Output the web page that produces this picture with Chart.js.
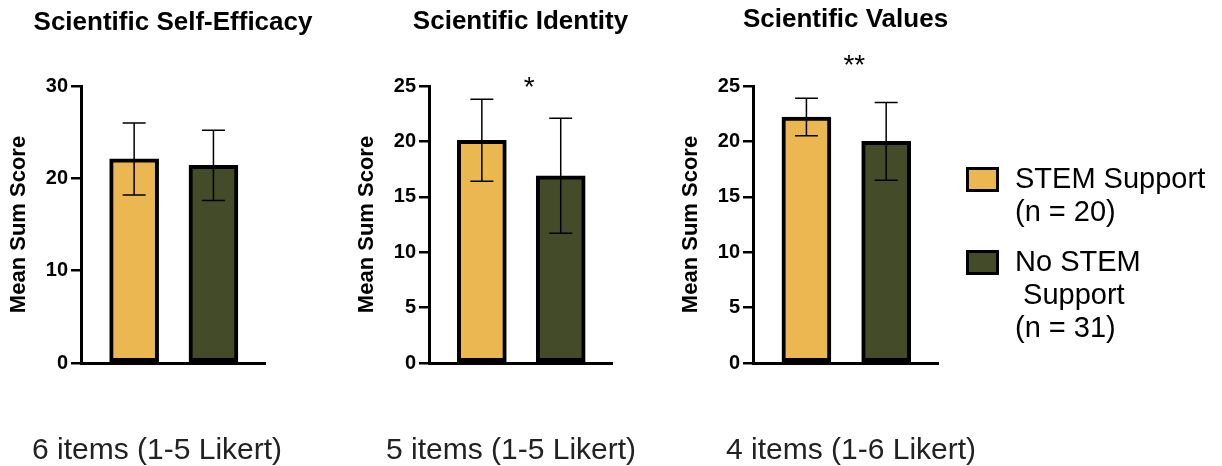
<!DOCTYPE html>
<html>
<head>
<meta charset="utf-8">
<script src="https://cdn.jsdelivr.net/npm/chart.js@4"></script>
<style>
html, body { margin: 0; padding: 0; background: #fff; }
#wrap { position: relative; width: 1222px; height: 466px; overflow: hidden; font-family: "Liberation Sans", Arial, sans-serif; }
#wrap canvas { position: absolute; left: 0; top: 0; }
.note { position: absolute; top: 434px; font-size: 30px; line-height: 30px; color: #222; white-space: nowrap; }
.legend { position: absolute; left: 966px; top: 0; width: 256px; height: 466px; }
.item { position: absolute; left: 0; }
.swatch { position: absolute; left: 0; width: 27px; height: 19px; border: 3px solid #000; }
.ltext { position: absolute; left: 49px; top: 0; font-size: 29px; line-height: 33px; color: #000; white-space: pre; }
</style>
</head>
<body>
<div id="wrap">
  <canvas id="c0" width="1222" height="466"></canvas>
  <canvas id="c1" width="1222" height="466"></canvas>
  <canvas id="c2" width="1222" height="466"></canvas>
  <div id="notes"></div>
  <div class="legend" id="legend"></div>
</div>
<script>
// ---- data ----
const panelTitles = ['Scientific Self-Efficacy', 'Scientific Identity', 'Scientific Values'];
const groupLabels = ['STEM Support\n(n = 20)', 'No STEM\n Support\n(n = 31)'];
const stemMean = [22.1, 20.1, 22.2];
const stemSD = [3.9, 3.7, 1.7];
const noStemMean = [21.4, 16.9, 20.0];
const noStemSD = [3.8, 5.2, 3.5];
const yMaxTicks = [30, 25, 25];
const yStepTicks = [10, 5, 5];
const sigMarks = ['', '*', '**'];
const sigLevel = [null, 25.6, 27.55];
const itemNotes = ['6 items (1-5 Likert)', '5 items (1-5 Likert)', '4 items (1-6 Likert)'];
const yAxisTitle = 'Mean Sum Score';

// ---- styling / layout ----
const GOLD = '#EBB750';
const OLIVE = '#434B28';
const FONT = '"Liberation Sans", Arial, sans-serif';
const W = 1222, H = 466;
const panelBox = [
  { left: 81, right: 265 },
  { left: 429, right: 612 },
  { left: 753, right: 938 }
];
const titleY = [23, 22, 20];
const AREA_TOP = 86, AREA_BOTTOM = 363;
const YW = 80;
const noteLeft = [32, 386, 726];

const errorBars = {
  id: 'errorBars',
  afterDatasetsDraw(chart) {
    const ctx = chart.ctx;
    const ys = chart.scales.y;
    chart.data.datasets.forEach((ds, di) => {
      const meta = chart.getDatasetMeta(di);
      meta.data.forEach((el, j) => {
        const v = ds.data[j].y, sd = ds.sd[j];
        const x = el.x;
        const yt = ys.getPixelForValue(v + sd);
        const yb = ys.getPixelForValue(v - sd);
        const cw = 11.5;
        ctx.save();
        ctx.strokeStyle = '#000';
        ctx.lineWidth = 1.5;
        ctx.beginPath();
        ctx.moveTo(x, yt); ctx.lineTo(x, yb);
        ctx.moveTo(x - cw, yt); ctx.lineTo(x + cw, yt);
        ctx.moveTo(x - cw, yb); ctx.lineTo(x + cw, yb);
        ctx.stroke();
        ctx.restore();
      });
    });
  }
};

const sigPlugin = {
  id: 'sig',
  afterDraw(chart, args, opts) {
    if (!opts.text) return;
    const ctx = chart.ctx;
    const x = chart.scales.x.getPixelForValue(opts.at);
    const y = chart.scales.y.getPixelForValue(opts.level);
    ctx.save();
    ctx.fillStyle = '#000';
    ctx.font = '28px ' + FONT;
    ctx.textAlign = 'center';
    ctx.textBaseline = 'alphabetic';
    ctx.fillText(opts.text, x, y + 0.58 * 28);
    ctx.restore();
  }
};

const panelTitle = {
  id: 'panelTitle',
  afterDraw(chart, args, opts) {
    const ctx = chart.ctx;
    const a = chart.chartArea;
    ctx.save();
    ctx.fillStyle = '#000';
    ctx.font = 'bold 26px ' + FONT;
    ctx.textAlign = 'center';
    ctx.textBaseline = 'middle';
    ctx.fillText(opts.text, (a.left + a.right) / 2, opts.y);
    ctx.restore();
  }
};

for (let i = 0; i < 3; i++) {
  const pb = panelBox[i];
  new Chart(document.getElementById('c' + i), {
    type: 'bar',
    data: {
      datasets: [
        { label: groupLabels[0], data: [{ x: 0, y: stemMean[i] }], sd: [stemSD[i]],
          backgroundColor: GOLD, borderColor: '#000', borderWidth: 4, borderSkipped: false,
          barThickness: 49, grouped: false },
        { label: groupLabels[1], data: [{ x: 1, y: noStemMean[i] }], sd: [noStemSD[i]],
          backgroundColor: OLIVE, borderColor: '#000', borderWidth: 4, borderSkipped: false,
          barThickness: 49, grouped: false }
      ]
    },
    options: {
      responsive: false,
      animation: false,
      devicePixelRatio: 1,
      layout: { padding: { left: pb.left - YW, right: W - pb.right, top: AREA_TOP, bottom: H - AREA_BOTTOM } },
      plugins: {
        legend: { display: false },
        tooltip: { enabled: false },
        title: { display: false },
        panelTitle: { text: panelTitles[i], y: titleY[i] },
        sig: { text: sigMarks[i], level: sigLevel[i], at: 0.6 }
      },
      scales: {
        x: {
          type: 'linear', min: -0.67, max: 1.65, offset: false,
          ticks: { display: false },
          grid: { display: false, drawTicks: false },
          border: { display: true, color: '#000', width: 3 },
          afterFit(s) { s.height = 0; }
        },
        y: {
          min: 0, max: yMaxTicks[i],
          ticks: { stepSize: yStepTicks[i], color: '#000', padding: 3,
                   font: { family: FONT, size: 20, weight: 'bold' } },
          grid: { drawOnChartArea: false, drawTicks: true, tickLength: 10,
                  color: '#000', lineWidth: 2.5, tickWidth: 2.5, tickColor: '#000' },
          border: { display: true, color: '#000', width: 3 },
          title: { display: true, text: yAxisTitle, color: '#000',
                   font: { family: FONT, size: 22, weight: 'bold', lineHeight: 1.2 },
                   padding: { top: 5, bottom: 5 } },
          afterFit(s) { s.width = YW; }
        }
      }
    },
    plugins: [errorBars, sigPlugin, panelTitle]
  });
}

// notes under panels
const notesEl = document.getElementById('notes');
itemNotes.forEach((t, i) => {
  const d = document.createElement('div');
  d.className = 'note';
  d.style.left = noteLeft[i] + 'px';
  d.textContent = t;
  notesEl.appendChild(d);
});

// legend
const legendEl = document.getElementById('legend');
const legendTops = [161.5, 245];
const swatchTops = [167, 250];
[GOLD, OLIVE].forEach((c, i) => {
  const item = document.createElement('div');
  item.className = 'item';
  item.style.top = '0px';
  const sw = document.createElement('div');
  sw.className = 'swatch';
  sw.style.background = c;
  sw.style.top = swatchTops[i] + 'px';
  const tx = document.createElement('div');
  tx.className = 'ltext';
  tx.style.top = legendTops[i] + 'px';
  tx.textContent = groupLabels[i];
  item.appendChild(sw);
  item.appendChild(tx);
  legendEl.appendChild(item);
});
</script>
</body>
</html>
